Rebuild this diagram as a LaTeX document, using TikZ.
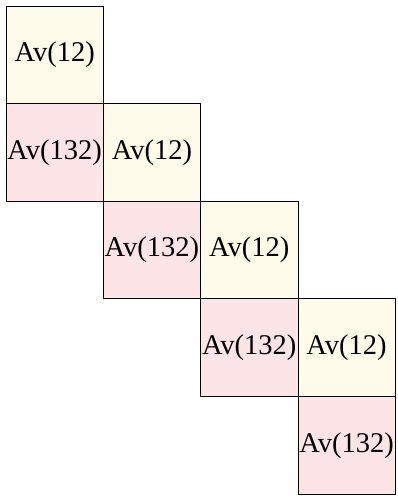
\documentclass[tikz,border=0pt]{standalone}
\usepackage{fontspec}
\setmainfont{Liberation Serif}
\definecolor{cellyellow}{RGB}{254,251,234}
\definecolor{cellpink}{RGB}{253,228,230}
\begin{document}
\begin{tikzpicture}[x=1pt,y=1pt,
  cell/.style={draw=black,line width=0.8pt,minimum width=97.3pt,minimum height=97.6pt,inner sep=0pt,
    font=\fontsize{28.5}{32}\selectfont},
  ycell/.style={cell,fill=cellyellow},
  pcell/.style={cell,fill=cellpink}]
\useasboundingbox (0,0) rectangle (397,498);
\foreach \i in {0,1,2,3}{
  \node[ycell] (y\i) at ({6+97.3*\i+48.65},{492-97.6*\i-48.8}) {Av(12)};
  \node[pcell] (p\i) at ({6+97.3*\i+48.65},{492-97.6*(\i+1)-48.8}) {Av(132)};
}
\end{tikzpicture}
\end{document}
